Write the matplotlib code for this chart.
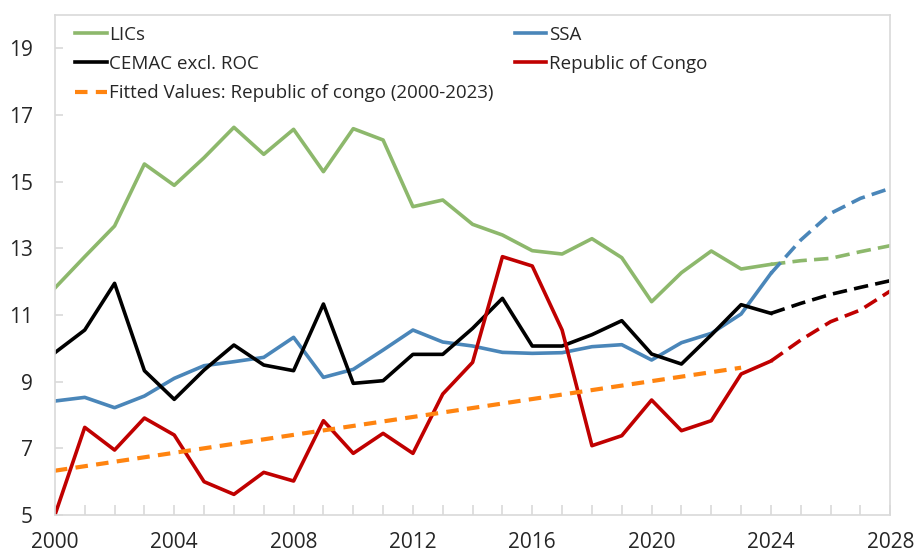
import matplotlib
matplotlib.use("Agg")
import matplotlib.pyplot as plt

plt.rcParams['font.family'] = ['Open Sans', 'DejaVu Sans']

years_hist = list(range(2000, 2025))
years_proj = list(range(2024, 2029))

lics_hist = [11.81, 12.75, 13.67, 15.53, 14.89, 15.72, 16.63, 15.82, 16.57, 15.30,
             16.59, 16.25, 14.25, 14.45, 13.72, 13.40, 12.93, 12.83, 13.29, 12.72,
             11.40, 12.27, 12.92, 12.38, 12.52]
lics_proj = [12.52, 12.63, 12.70, 12.90, 13.08]

ssa_hist = [8.42, 8.53, 8.22, 8.57, 9.10, 9.48, 9.60, 9.73, 10.33, 9.13,
            9.37, 9.95, 10.55, 10.19, 10.07, 9.88, 9.85, 9.87, 10.05, 10.11,
            9.65, 10.17, 10.45, 11.03, 12.25]
ssa_proj = [12.25, 13.25, 14.05, 14.50, 14.80]

cemac_hist = [9.87, 10.55, 11.95, 9.33, 8.47, 9.35, 10.10, 9.50, 9.33, 11.33,
              8.95, 9.03, 9.82, 9.82, 10.60, 11.50, 10.07, 10.07, 10.41, 10.83,
              9.83, 9.53, 10.40, 11.31, 11.05]
cemac_proj = [11.05, 11.35, 11.62, 11.83, 12.03]

roc_hist = [5.00, 7.63, 6.95, 7.91, 7.40, 6.00, 5.62, 6.28, 6.02, 7.83,
            6.85, 7.45, 6.85, 8.63, 9.58, 12.75, 12.47, 10.55, 7.08, 7.38,
            8.45, 7.53, 7.83, 9.23, 9.62]
roc_proj = [9.62, 10.25, 10.80, 11.15, 11.72]

fit_years = [2000, 2023]
fit_vals = [6.33, 9.42]

labels = ["LICs", "CEMAC excl. ROC", "Fitted Values: Republic of congo (2000-2023)",
          "SSA", "Republic of Congo"]

c_green = "#8DB86C"
c_blue = "#4A86B9"
c_black = "#000000"
c_red = "#C00000"
c_orange = "#FF8410"

fig = plt.figure(figsize=(9.15, 5.55), dpi=100)
ax = fig.add_axes([0.060, 0.072, 0.913, 0.901])

lw = 2.6
dash = (0, (4, 2))
l1, = ax.plot(years_hist, lics_hist, color=c_green, lw=lw)
ax.plot(years_proj, lics_proj, color=c_green, lw=lw, ls=dash)
l4, = ax.plot(years_hist, ssa_hist, color=c_blue, lw=lw)
ax.plot(years_proj, ssa_proj, color=c_blue, lw=lw, ls=dash)
l2, = ax.plot(years_hist, cemac_hist, color=c_black, lw=lw)
ax.plot(years_proj, cemac_proj, color=c_black, lw=lw, ls=dash)
l5, = ax.plot(years_hist, roc_hist, color=c_red, lw=lw)
ax.plot(years_proj, roc_proj, color=c_red, lw=lw, ls=dash)
l3, = ax.plot(fit_years, fit_vals, color=c_orange, lw=3.0, ls=(0, (3, 2)))

ax.set_xlim(2000, 2028)
ax.set_ylim(5, 20)
ax.set_xticks(range(2000, 2029, 4))
ax.set_xticks(range(2000, 2029, 1), minor=True)
ax.set_yticks(range(5, 20, 2))

for s in ax.spines.values():
    s.set_color("#D9D9D9")
    s.set_linewidth(1.2)

ax.tick_params(axis='x', which='both', direction='in', length=7, color="#D9D9D9",
               width=1.2, labelsize=15, pad=12)
ax.tick_params(axis='y', which='both', direction='in', length=6, color="#D9D9D9",
               width=1.2, labelsize=15, pad=16)
for t in ax.get_xticklabels() + ax.get_yticklabels():
    t.set_color("#262626")

leg = ax.legend([l1, l2, l3, l4, l5], labels, ncol=2, loc='upper left',
                bbox_to_anchor=(0.008, 1.005), frameon=False, fontsize=13.5,
                handlelength=1.7, handletextpad=0.15, columnspacing=1.1,
                labelspacing=0.6, borderaxespad=0.3)
for t in leg.get_texts():
    t.set_color("#262626")

fig.savefig("out.png", dpi=100)
